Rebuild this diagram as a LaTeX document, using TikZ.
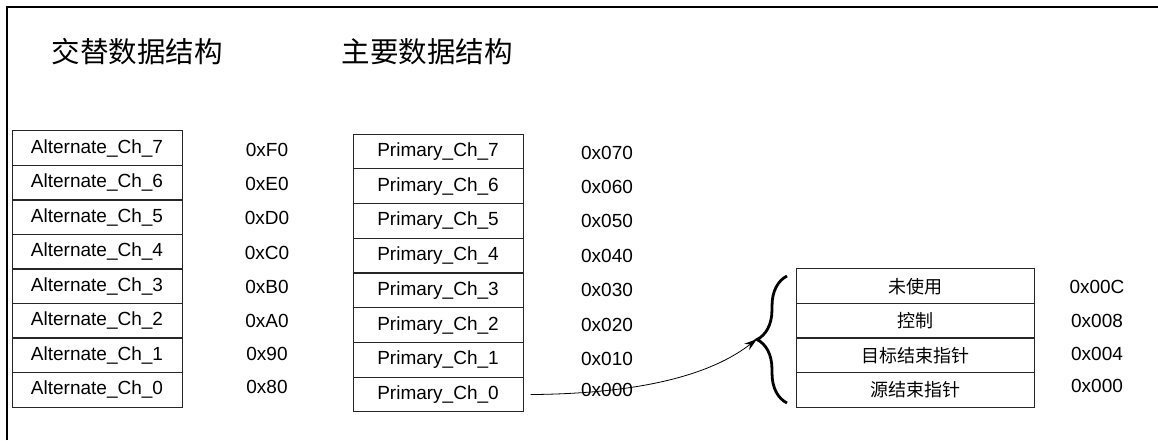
\documentclass[tikz,border=0pt]{standalone}
\usepackage{fontspec}
\setmainfont{Liberation Sans}
\newfontfamily\cjk{Noto Sans CJK SC}
\usetikzlibrary{arrows.meta,decorations.pathreplacing}
\begin{document}
\begin{tikzpicture}[x=1pt,y=-1pt,
  cell/.style={draw=black!85, line width=1pt, minimum width=170pt, minimum height=34.6pt, inner sep=0pt, font=\fontsize{19}{22}\selectfont},
  wcell/.style={cell, minimum width=238pt, font=\fontsize{18}{22}\selectfont\cjk},
  addr/.style={inner sep=0pt, font=\fontsize{19}{22}\selectfont},
  title/.style={inner sep=0pt, font=\fontsize{28.5}{32}\selectfont\cjk}]
\useasboundingbox (0,0) rectangle (1158,440);
\draw[line width=2pt] (7,440) -- (7,7) -- (1158,7);
\node[title] (t1) at (137,52) {交替数据结构};
\node[title] (t2) at (427,52) {主要数据结构};
% alternate
\node[cell] (a7) at (97,148.25) {Alternate\_Ch\_7};
\node[cell] (a6) at (97,182.75) {Alternate\_Ch\_6};
\node[cell] (a5) at (97,217.25) {Alternate\_Ch\_5};
\node[cell] (a4) at (97,251.75) {Alternate\_Ch\_4};
\node[cell] (a3) at (97,286.25) {Alternate\_Ch\_3};
\node[cell] (a2) at (97,320.75) {Alternate\_Ch\_2};
\node[cell] (a1) at (97,355.25) {Alternate\_Ch\_1};
\node[cell] (a0) at (97,389.75) {Alternate\_Ch\_0};
\node[addr] (ad7) at (267,150) {0xF0};
\node[addr] (ad6) at (267,184) {0xE0};
\node[addr] (ad5) at (267,218) {0xD0};
\node[addr] (ad4) at (267,253) {0xC0};
\node[addr] (ad3) at (267,287) {0xB0};
\node[addr] (ad2) at (267,321) {0xA0};
\node[addr] (ad1) at (267,354) {0x90};
\node[addr] (ad0) at (267,387) {0x80};
% primary
\node[cell] (p7) at (438,151.4) {Primary\_Ch\_7};
\node[cell] (p6) at (438,186.1) {Primary\_Ch\_6};
\node[cell] (p5) at (438,220.9) {Primary\_Ch\_5};
\node[cell] (p4) at (438,255.6) {Primary\_Ch\_4};
\node[cell] (p3) at (438,290.4) {Primary\_Ch\_3};
\node[cell] (p2) at (438,325.1) {Primary\_Ch\_2};
\node[cell] (p1) at (438,359.9) {Primary\_Ch\_1};
\node[cell] (p0) at (438,394.6) {Primary\_Ch\_0};
\node[addr] (pd7) at (607,153) {0x070};
\node[addr] (pd6) at (607,187) {0x060};
\node[addr] (pd5) at (607,221) {0x050};
\node[addr] (pd4) at (607,256) {0x040};
\node[addr] (pd3) at (607,290) {0x030};
\node[addr] (pd2) at (607,325) {0x020};
\node[addr] (pd1) at (607,359) {0x010};
\node[addr] (pd0) at (607,390) {0x000};
% descriptor
\node[wcell] (w3) at (915,286.25) {未使用};
\node[wcell] (w2) at (915,320.75) {控制};
\node[wcell] (w1) at (915,355.25) {目标结束指针};
\node[wcell] (w0) at (915,389.75) {源结束指针};
\node[addr] (wd3) at (1097,287) {0x00C};
\node[addr] (wd2) at (1097,321) {0x008};
\node[addr] (wd1) at (1097,354) {0x004};
\node[addr] (wd0) at (1097,386) {0x000};
% brace
\coordinate (bb) at (787,403);
\coordinate (bt) at (787,276);
\draw[line width=2.8pt, decorate, decoration={brace, amplitude=30pt}] (bb) -- (bt);
\coordinate (tip) at (757,339);
\draw[line width=0.8pt, -{Stealth[length=13pt,width=8pt]}, shorten <=7pt]
  (p0.east) .. controls +(120,-1) and +(-45,35) .. (tip);
\end{tikzpicture}
\end{document}
